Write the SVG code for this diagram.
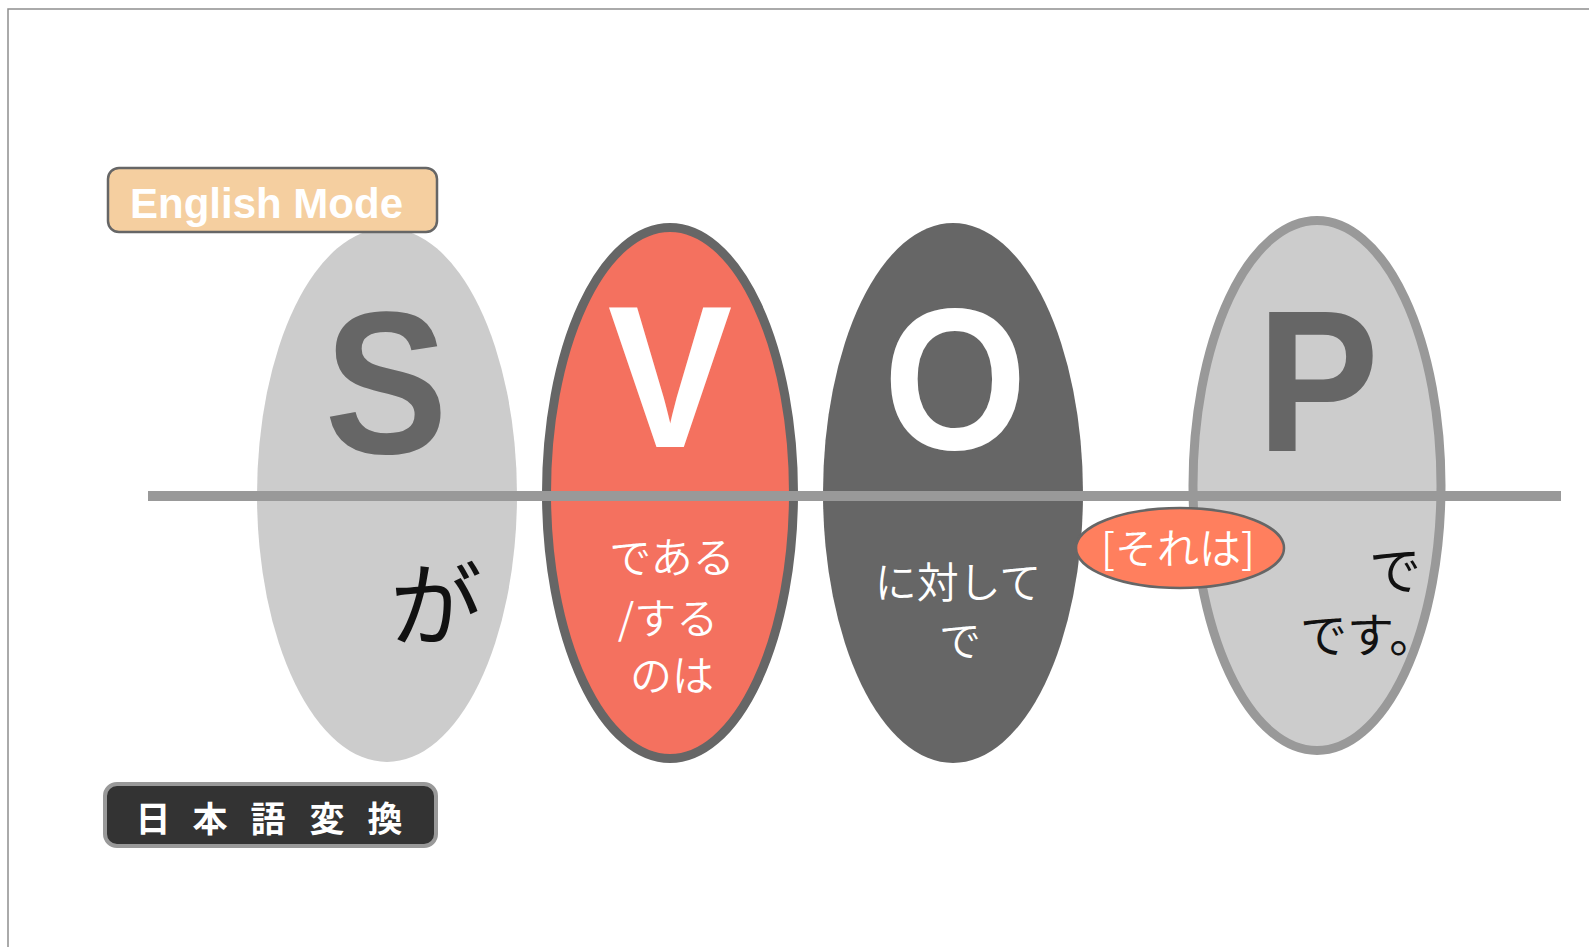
<svg xmlns="http://www.w3.org/2000/svg" width="1589" height="947" viewBox="0 0 1589 947">
  <style>
    .big { font-family: "Liberation Sans", Arial, sans-serif; font-weight: bold; font-size: 203px; text-anchor: middle; }
    .jp { font-family: "Noto Sans CJK JP", "Noto Sans", sans-serif; text-anchor: middle; }
    .thin { fill: #ffffff; font-weight: 350; font-size: 42px; }
    .blk { fill: #111111; }
  </style>
  <rect x="0" y="0" width="1589" height="947" fill="#ffffff"/>
  <path d="M8 947 V9 H1589" fill="none" stroke="#8f8f8f" stroke-width="1.5"/>

  <g id="node-S">
    <ellipse cx="387" cy="495" rx="130" ry="267" fill="#cccccc"/>
  </g>
  <g id="node-V">
    <ellipse cx="670" cy="493" rx="123.5" ry="265.5" fill="#f4715f" stroke="#666666" stroke-width="9"/>
  </g>
  <g id="node-O">
    <ellipse cx="953" cy="493" rx="130" ry="270" fill="#666666"/>
  </g>
  <g id="node-P">
    <ellipse cx="1317" cy="485.5" rx="124" ry="265" fill="#cccccc" stroke="#999999" stroke-width="9"/>
  </g>

  <g id="connectors">
    <line x1="148" y1="496" x2="1561" y2="496" stroke="#999999" stroke-width="10"/>
  </g>

  <g id="node-S-text">
    <text class="big" transform="translate(386 453) scale(0.91 1)" fill="#666666">S</text>
    <text class="jp blk" x="436" y="639" font-size="92">が</text>
  </g>
  <g id="node-V-text">
    <text class="big" transform="translate(670 447) scale(0.92 1)" fill="#ffffff">V</text>
    <text class="jp thin" x="672" y="573">である</text>
    <text class="jp thin" x="668" y="634">/する</text>
    <text class="jp thin" x="672" y="691" font-size="44">のは</text>
  </g>
  <g id="node-O-text">
    <text class="big" transform="translate(955 449) scale(0.91 1)" fill="#ffffff">O</text>
    <text class="jp thin" x="958" y="598">に対して</text>
    <text class="jp thin" x="960" y="656">で</text>
  </g>
  <g id="node-P-text">
    <text class="big" transform="translate(1318 451) scale(0.9 1)" fill="#666666">P</text>
    <text class="jp blk" x="1395" y="590" font-size="52">で</text>
    <text class="jp blk" x="1300" y="652" font-size="47" style="text-anchor:start">です。</text>
  </g>

  <g id="node-sorewa">
    <ellipse cx="1180" cy="548" rx="104" ry="40" fill="#ff7f5e" stroke="#666666" stroke-width="2.5"/>
    <text class="jp thin" x="1178" y="564">[それは]</text>
  </g>

  <g id="node-english-mode">
    <rect x="108" y="168" width="329" height="64" rx="11" ry="11" fill="#f5cfa0" stroke="#666666" stroke-width="2.5"/>
    <text x="130" y="218" font-family="Liberation Sans, Arial, sans-serif" font-weight="bold" font-size="42" fill="#ffffff">English Mode</text>
  </g>

  <g id="node-nihongo">
    <rect x="105" y="784" width="331" height="62" rx="12" ry="12" fill="#333333" stroke="#999999" stroke-width="4"/>
    <g class="jp" fill="#ffffff" font-weight="bold" font-size="35">
      <text x="153" y="832">日</text>
      <text x="210" y="832">本</text>
      <text x="268" y="832">語</text>
      <text x="327" y="832">変</text>
      <text x="385" y="832">換</text>
    </g>
  </g>
</svg>
